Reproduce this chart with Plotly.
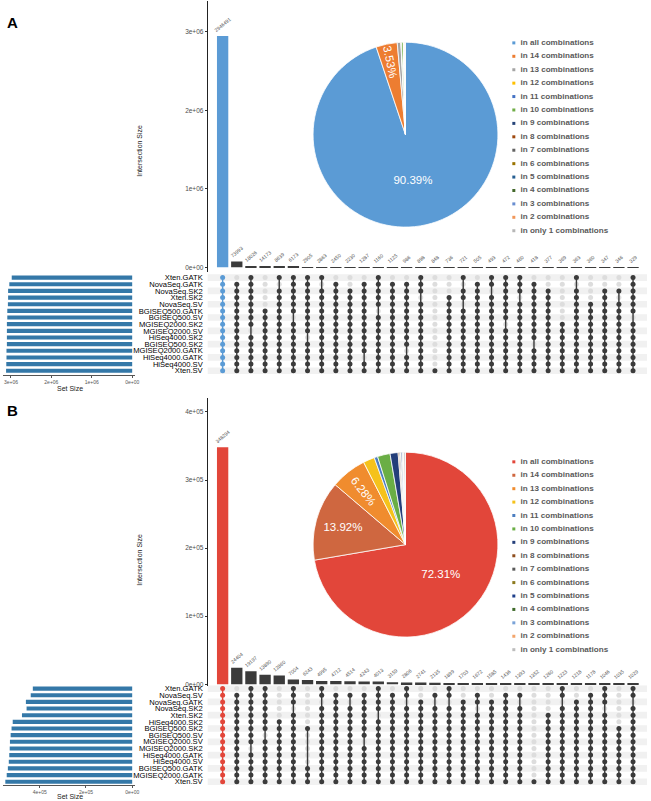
import plotly.graph_objects as go

W, H = 651, 801
FONT = "Liberation Sans, Arial, Helvetica, sans-serif"

# ---------------- panel A data ----------------
sets_a = ["Xten.GATK", "NovaSeq.GATK", "NovaSeq.SK2", "Xten.SK2", "NovaSeq.SV",
          "BGISEQ500.GATK", "BGISEQ500.SV", "MGISEQ2000.SK2", "MGISEQ2000.SV",
          "HiSeq4000.SK2", "BGISEQ500.SK2", "MGISEQ2000.GATK", "HiSeq4000.GATK",
          "HiSeq4000.SV", "Xten.SV"]
set_size_a = [2.98e6, 3.04e6, 3.07e6, 3.07e6, 3.075e6, 3.09e6, 3.09e6, 3.10e6,
              3.10e6, 3.10e6, 3.10e6, 3.11e6, 3.11e6, 3.115e6, 3.12e6]
inter_a = [2946491, 73993, 18026, 14173, 8639, 6173, 2905, 2863, 2450, 2230,
           1287, 1160, 1125, 986, 898, 848, 736, 721, 505, 493,
           472, 460, 418, 377, 369, 363, 360, 347, 346, 329]
# one string per intersection column, characters follow sets_a order
members_a = ["111111111111111", "011111111111111", "111111110111111", "000001111111111",
             "101111111111111", "111111011111111", "111111111011111", "101111111111111",
             "011111111111111", "001111111111111", "011111111111011", "111110111111111",
             "011111111111111", "011111111110111", "111011111111111", "000000000000001",
             "000111111111111", "101101111111111", "011111111111111", "110111111111111",
             "111111101111111", "111011111111111", "011111111101111", "001111111111111",
             "000000011111111", "101111111111111", "000011111111111", "001111111111111",
             "001011111111111", "111111011111111"]
ticks_bar_a = [0, 1e6, 2e6, 3e6]
ticktext_bar_a = ["0e+00", "1e+06", "2e+06", "3e+06"]
ticks_set_a = [3e6, 2e6, 1e6, 0]
ticktext_set_a = ["3e+06", "2e+06", "1e+06", "0e+00"]

# ---------------- panel B data ----------------
sets_b = ["Xten.GATK", "NovaSeq.SV", "NovaSeq.GATK", "NovaSeq.SK2", "Xten.SK2",
          "HiSeq4000.SK2", "BGISEQ500.SK2", "BGISEQ500.SV", "MGISEQ2000.SV",
          "MGISEQ2000.SK2", "HiSeq4000.GATK", "HiSeq4000.SV", "BGISEQ500.GATK",
          "MGISEQ2000.GATK", "Xten.SV"]
set_size_b = [4.30e5, 4.39e5, 4.60e5, 4.57e5, 4.77e5, 5.17e5, 5.22e5, 5.26e5,
              5.29e5, 5.30e5, 5.32e5, 5.34e5, 5.38e5, 5.43e5, 5.49e5]
inter_b = [348294, 24404, 19197, 13890, 12860, 7004, 6243, 4995, 4712, 4514,
           4243, 4013, 3159, 2806, 2741, 2135, 1899, 1703, 1672, 1585,
           1436, 1393, 1352, 1260, 1223, 1218, 1178, 1046, 1035, 1029]
members_b = ["111111111111111", "011111111111111", "111111111011111", "111111101111111",
             "000001111111111", "111011111111111", "000000100000111", "110111111111111",
             "011111111111111", "010111111111111", "011111110111111", "111101111111111",
             "011111111111111", "110111111111111", "001111111111111", "010111111111111",
             "110111111111111", "001111111111111", "011011111111111", "001111111111111",
             "011111111111111", "010111111111111", "000000000000001", "000011111111111",
             "110111111111111", "001111111111111", "011111111111111", "111011111111111",
             "000000111111111", "110111111111111"]
ticks_bar_b = [0, 1e5, 2e5, 3e5, 4e5]
ticktext_bar_b = ["0e+00", "1e+05", "2e+05", "3e+05", "4e+05"]
ticks_set_b = [4e5, 2e5, 0]
ticktext_set_b = ["4e+05", "2e+05", "0e+00"]

# ---------------- pie data ----------------
pie_labels = ["in all combinations", "in 14 combinations", "in 13 combinations",
              "in 12 combinations", "in 11 combinations", "in 10 combinations",
              "in 9 combinations", "in 8 combinations", "in 7 combinations",
              "in 6 combinations", "in 5 combinations", "in 4 combinations",
              "in 3 combinations", "in 2 combinations", "in only 1 combinations"]
pie_vals_a = [90.39, 3.53, 0.6, 0.05, 0.05, 0.3, 0.03, 0.03, 0.03, 0.03, 0.03, 0.03, 0.03, 0.05, 0.1]
pie_text_a = ["90.39%", "3.53%"] + [""] * 13
pie_vals_b = [72.31, 13.92, 6.28, 2.0, 0.6, 2.2, 1.4, 0.2, 0.2, 0.1, 0.2, 0.1, 0.1, 0.1, 0.28]
pie_text_b = ["72.31%", "13.92%", "6.28%"] + [""] * 12
colors_a = ["#5B9BD5", "#ED7D31", "#A5A5A5", "#FFC000", "#4472C4", "#70AD47", "#264478",
            "#9E480E", "#636363", "#997300", "#255E91", "#43682B", "#698ED0", "#F1975A", "#B7B7B7"]
colors_b = ["#E2463A", "#CF6740", "#F08C2E", "#F5C21B", "#4C7EC0", "#6AAE45", "#243F7A",
            "#8E4E1E", "#5A5A5A", "#8C7A1E", "#1E3F8A", "#3E6A2A", "#7AA3D8", "#F3A56C", "#BDBDBD"]

DARK = "#3B3B3B"
LIGHT = "#DDDDDD"
SET_BAR = "#3478A8"


def fx(p):
    return p / W


def fy(p):
    return 1 - p / H


fig = go.Figure()
layout_axes = {}
shapes = []
annotations = []


def ax_names(k):
    return ("x" if k == 1 else f"x{k}"), ("y" if k == 1 else f"y{k}")


def key(a, k):
    return a if k == 1 else f"{a}{k}"


def note(text, x, y, size, angle=0, weight="normal", color="#222"):
    annotations.append(dict(text=text, x=fx(x), y=fy(y), xref="paper", yref="paper",
                            xanchor="center", yanchor="middle", showarrow=False,
                            textangle=angle,
                            font=dict(size=size, color=color, family=FONT, weight=weight)))


def add_panel(k0, sets, sizes, inter, members, first_color, tb, ttb, ts, tts, g):
    n = len(inter)
    nrow = len(sets)
    kb, km, ks = k0, k0 + 1, k0 + 2
    xb, yb = ax_names(kb)
    xm, ym = ax_names(km)
    xs, ys = ax_names(ks)
    col_w = 14.24
    col0 = 224
    xr = [-(col0 - 209) / col_w, n - 1 + (651 - (col0 + col_w * (n - 1))) / col_w]

    # intersection bars
    fig.add_trace(go.Bar(
        x=list(range(n)), y=inter, width=0.8,
        marker=dict(color=[first_color] + [DARK] * (n - 1), line_width=0),
        text=[str(v) for v in inter], textposition="outside", textangle=-40,
        constraintext="none", cliponaxis=False,
        textfont=dict(size=5, color="#555555", family=FONT),
        xaxis=xb, yaxis=yb, showlegend=False, hoverinfo="skip"))
    scale = (g["zero"] - g["top_tick_px"]) / g["top_tick"]
    yr = [-(g["bar_bottom"] - g["zero"]) / scale, g["top_tick"] + (g["top_tick_px"] - g["bar_top"]) / scale]
    layout_axes[key("xaxis", kb)] = dict(domain=[fx(209), 1], range=xr, visible=False, anchor=yb)
    layout_axes[key("yaxis", kb)] = dict(
        domain=[fy(g["bar_bottom"]), fy(g["bar_top"])], range=yr, anchor=xb,
        tickvals=tb, ticktext=ttb, ticks="outside", ticklen=2, tickcolor="#333",
        showline=True, linecolor="#222", linewidth=1, showgrid=False, zeroline=False,
        tickfont=dict(size=6.5, color="#4D4D4D", family=FONT))

    # matrix
    rspace = 6.67
    mr = [(g["mat_bottom"] - g["row0"]) / rspace, -(g["row0"] - g["mat_top"]) / rspace]
    for r in range(0, nrow, 2):
        shapes.append(dict(type="rect", xref=f"{xm} domain", yref=ym, x0=0, x1=1,
                           y0=r - 0.5, y1=r + 0.5, fillcolor="#F1F1F1",
                           line_width=0, layer="below"))
    on_x, on_y, off_x, off_y, f_y = [], [], [], [], []
    lx, ly = [], []
    for c, m in enumerate(members):
        rows = [r for r, ch in enumerate(m) if ch == "1"]
        for r in range(nrow):
            if r in rows:
                if c == 0:
                    f_y.append(r)
                else:
                    on_x.append(c)
                    on_y.append(r)
            else:
                off_x.append(c)
                off_y.append(r)
        if c > 0 and len(rows) > 1:
            lx += [c, c, None]
            ly += [min(rows), max(rows), None]
    fig.add_trace(go.Scatter(x=off_x, y=off_y, mode="markers",
                             marker=dict(size=5, color=LIGHT), xaxis=xm, yaxis=ym,
                             showlegend=False, hoverinfo="skip"))
    fig.add_trace(go.Scatter(x=lx, y=ly, mode="lines", line=dict(color=DARK, width=1.4),
                             xaxis=xm, yaxis=ym, showlegend=False, hoverinfo="skip"))
    fig.add_trace(go.Scatter(x=on_x, y=on_y, mode="markers",
                             marker=dict(size=5, color=DARK), xaxis=xm, yaxis=ym,
                             showlegend=False, hoverinfo="skip"))
    fig.add_trace(go.Scatter(x=[0, 0, None], y=[min(f_y), max(f_y), None], mode="lines",
                             line=dict(color=first_color, width=1.4), xaxis=xm, yaxis=ym,
                             showlegend=False, hoverinfo="skip"))
    fig.add_trace(go.Scatter(x=[0] * len(f_y), y=f_y, mode="markers",
                             marker=dict(size=5, color=first_color), xaxis=xm, yaxis=ym,
                             showlegend=False, hoverinfo="skip"))
    layout_axes[key("xaxis", km)] = dict(domain=[fx(209), 1], range=xr, visible=False, anchor=ym)
    layout_axes[key("yaxis", km)] = dict(
        domain=[fy(g["mat_bottom"]), fy(g["mat_top"])], range=mr, anchor=xm,
        tickvals=list(range(nrow)), ticktext=sets, ticks="", showline=False,
        showgrid=False, zeroline=False, ticklabelstandoff=4,
        tickfont=dict(size=7.6, color="#000000", family=FONT))

    # set size bars
    sscale = (133 - g["set_tick_px"]) / g["set_tick"]
    sr = [(133 - 3) / sscale, -(136 - 133) / sscale]
    fig.add_trace(go.Bar(x=sizes, y=list(range(nrow)), orientation="h", width=0.62,
                         marker=dict(color=SET_BAR, line_width=0), xaxis=xs, yaxis=ys,
                         showlegend=False, hoverinfo="skip"))
    layout_axes[key("xaxis", ks)] = dict(
        domain=[fx(3), fx(136)], range=sr, anchor=ys, tickvals=ts, ticktext=tts,
        ticks="outside", ticklen=2, tickcolor="#555", showline=True, linecolor="#555",
        linewidth=0.8, showgrid=False, zeroline=False,
        tickfont=dict(size=5, color="#555555", family=FONT))
    layout_axes[key("yaxis", ks)] = dict(
        domain=[fy(g["set_bottom"]), fy(g["mat_top"])],
        range=[(g["set_bottom"] - g["row0"]) / rspace, mr[1]], visible=False, anchor=xs)

    note(g["letter"], 13, g["letter_y"], 15, weight="bold", color="black")
    note("Intersection Size", 140, g["ytitle_y"], 7, angle=-90)
    note("Set Size", 70, g["settitle_y"], 7)


add_panel(1, sets_a, set_size_a, inter_a, members_a, colors_a[0],
          ticks_bar_a, ticktext_bar_a, ticks_set_a, ticktext_set_a,
          dict(bar_top=0, bar_bottom=272, zero=267, top_tick=3e6, top_tick_px=31,
               mat_top=273, mat_bottom=375, row0=277.3, set_bottom=375,
               set_tick=3e6, set_tick_px=11, letter="A", letter_y=22,
               ytitle_y=150, settitle_y=388))
add_panel(4, sets_b, set_size_b, inter_b, members_b, colors_b[0],
          ticks_bar_b, ticktext_bar_b, ticks_set_b, ticktext_set_b,
          dict(bar_top=398, bar_bottom=687, zero=685, top_tick=4e5, top_tick_px=412,
               mat_top=686, mat_bottom=788, row0=689.3, set_bottom=786,
               set_tick=4e5, set_tick_px=40, letter="B", letter_y=411,
               ytitle_y=560, settitle_y=797))

# pies
for vals, txt, cols, top in [(pie_vals_a, pie_text_a, colors_a, 41),
                             (pie_vals_b, pie_text_b, colors_b, 452)]:
    fig.add_trace(go.Pie(
        values=vals, labels=pie_labels, text=txt, textinfo="text", sort=False,
        direction="clockwise", rotation=0, showlegend=False, hoverinfo="skip",
        marker=dict(colors=cols, line=dict(color="white", width=0.8)),
        textfont=dict(size=11.5, color="white", family=FONT),
        insidetextorientation="auto", textposition="inside",
        domain=dict(x=[fx(315), fx(501)], y=[fy(top + 186), fy(top)])))

# legends for pies: square keys plus labels on a small hidden axis pair
for k, cols, first in [(7, colors_a, 42), (8, colors_b, 462)]:
    xl, yl = ax_names(k)
    step = 13.45
    rows = list(range(len(pie_labels)))
    fig.add_trace(go.Scatter(
        x=[0] * len(rows), y=rows, mode="markers", cliponaxis=False,
        marker=dict(symbol="square", size=3, color=cols),
        xaxis=xl, yaxis=yl, showlegend=False, hoverinfo="skip"))
    fig.add_trace(go.Scatter(
        x=[0.05] * len(rows), y=rows, mode="text", text=pie_labels,
        textposition="middle right", cliponaxis=False,
        textfont=dict(size=8.1, color="#5A5A5A", family=FONT, weight="bold"),
        xaxis=xl, yaxis=yl, showlegend=False, hoverinfo="skip"))
    dom_top, dom_bot = first - 7, first + 14 * step + 7
    layout_axes[key("xaxis", k)] = dict(domain=[fx(517), 1], range=[0, 1], visible=False, anchor=yl)
    layout_axes[key("yaxis", k)] = dict(domain=[fy(dom_bot), fy(dom_top)],
                                        range=[(dom_bot - first) / step, -(first - dom_top) / step],
                                        visible=False, anchor=xl)

fig.update_layout(
    width=W, height=H, margin=dict(l=0, r=0, t=0, b=0),
    paper_bgcolor="white", plot_bgcolor="rgba(0,0,0,0)",
    font=dict(family=FONT), bargap=0.2,
    shapes=shapes, annotations=annotations, **layout_axes)

# the page body keeps an 8px margin by default; drop it so the figure sits at 0,0
fig.write_html("out.html", config={"displayModeBar": False},
               post_script="document.body.style.margin = '0';")
